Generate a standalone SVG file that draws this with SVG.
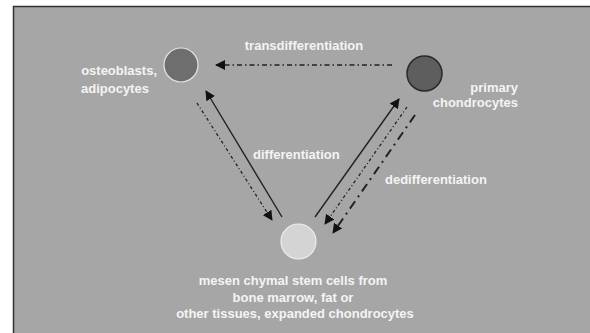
<svg xmlns="http://www.w3.org/2000/svg" width="590" height="333" viewBox="0 0 590 333">
<defs>
<style>
.lbl{font-family:"Liberation Sans",Arial,sans-serif;font-weight:bold;font-size:13px;fill:#f4f4f4}
.c{stroke:#222;fill:none}
.solid{stroke-width:1.4}
.dd{stroke-width:1.3;stroke-dasharray:5 3 1.5 3}
.fine{stroke-width:1.3;stroke-dasharray:3 2.5 1 2.5}
.long{stroke-width:2;stroke-dasharray:9 5 2 5}
</style>
<marker id="ah" viewBox="0 0 10 10" refX="9" refY="5" markerWidth="10" markerHeight="10" markerUnits="userSpaceOnUse" orient="auto">
<path d="M0,0 L10,5 L0,10 z" fill="#111"/>
</marker>
</defs>
<rect x="0" y="0" width="590" height="333" fill="#ffffff"/>
<rect x="13.5" y="6.5" width="580" height="330" fill="#a6a6a6" stroke="#333" stroke-width="1.5"/>
<g id="connectors">
<line class="c dd" x1="392" y1="65" x2="216" y2="65" marker-end="url(#ah)"/>
<line class="c solid" x1="282" y1="217" x2="206" y2="91" marker-end="url(#ah)"/>
<line class="c fine" x1="197" y1="103" x2="272" y2="220" marker-end="url(#ah)"/>
<line class="c solid" x1="315" y1="217" x2="399" y2="99" marker-end="url(#ah)"/>
<line class="c fine" x1="407" y1="107" x2="325" y2="224" marker-end="url(#ah)"/>
<line class="c long" x1="415" y1="115" x2="333" y2="233" marker-end="url(#ah)"/>
</g>
<g id="label-transdifferentiation"><text class="lbl" x="304" y="50" text-anchor="middle">transdifferentiation</text></g>
<g id="label-differentiation"><text class="lbl" x="253" y="159">differentiation</text></g>
<g id="label-dedifferentiation"><text class="lbl" x="385" y="184">dedifferentiation</text></g>
<g id="node-osteoblasts">
<circle cx="181" cy="65" r="17" fill="#6e6e6e" stroke="#e4e4e4" stroke-width="1.2"/>
<text class="lbl" x="157" y="75" text-anchor="end">osteoblasts,</text>
<text class="lbl" x="81" y="93">adipocytes</text>
</g>
<g id="node-primary">
<circle cx="424.5" cy="73.5" r="17.5" fill="#5e5e5e" stroke="#2a2a2a" stroke-width="1.5"/>
<text class="lbl" x="518" y="92" text-anchor="end">primary</text>
<text class="lbl" x="518" y="107" text-anchor="end">chondrocytes</text>
</g>
<g id="node-msc">
<circle cx="298.5" cy="241.5" r="17.5" fill="#d4d4d4" stroke="#eeeeee" stroke-width="1.2"/>
<text class="lbl" x="293" y="285" text-anchor="middle">mesen chymal stem cells from</text>
<text class="lbl" x="293" y="302" text-anchor="middle">bone marrow, fat or</text>
<text class="lbl" x="295" y="318" text-anchor="middle">other tissues, expanded chondrocytes</text>
</g>
</svg>
